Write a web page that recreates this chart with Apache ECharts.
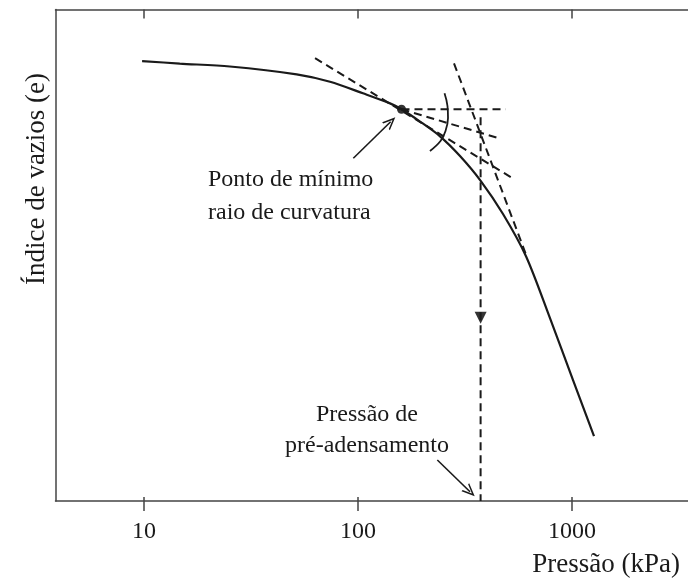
<!DOCTYPE html>
<html>
<head>
    <meta charset="utf-8">
    <title>Pressão de pré-adensamento</title>
    <script src="https://cdn.jsdelivr.net/npm/echarts@6.0.0/dist/echarts.min.js"></script>
    <style>
        html, body { margin: 0; padding: 0; background: #fff; }
        #main { width: 688px; height: 580px; }
    </style>
</head>
<body>
<div id="main"></div>
<script type="text/javascript">
// curva e x log(p)
var curveP = [9.8, 14.7, 25.2, 51.7, 74.0, 105.5, 141.1, 159.7, 194.9, 241.7, 299.7, 373.6, 476, 609.6, 789, 1011, 1267];
var curveE = [1.295, 1.290, 1.284, 1.268, 1.253, 1.2295, 1.209, 1.197, 1.172, 1.142, 1.102, 1.052, 0.984, 0.898, 0.772, 0.646, 0.532];

// ponto de minimo raio de curvatura
var minPoint = [159.7, 1.197];

// construcao de Casagrande
var tangentP = [63.0, 526.1];
var tangentE = [1.301, 1.057];
var horizP = [159.7, 489.8];
var horizE = [1.197, 1.197];
var bisectP = [159.7, 456];
var bisectE = [1.197, 1.138];
var virginP = [280.9, 616.2];
var virginE = [1.2905, 0.896];
var vertP = [374, 374];
var vertE = [1.181, 0.4];
var arrowMid = [374, 0.773];
var arcP = [253.7, 261.9, 263.4, 256.4, 243, 216.9];
var arcE = [1.2295, 1.2037, 1.1792, 1.1528, 1.1325, 1.1121];

// setas das legendas
var arrow1P = [95.1, 142.1];
var arrow1E = [1.0973, 1.1717];
var arrow2P = [234.8, 333.8];
var arrow2E = [0.4834, 0.4189];

var tickValues = [10, 100, 1000];

function pairs(xs, ys) {
    return xs.map(function (x, i) { return [x, ys[i]]; });
}

var serif = '"Liberation Serif", "Times New Roman", serif';
var ink = '#1a1a1a';
var chevron = 'path://M0,10 L5,0 L10,10 L8.6,10 L5,3 L1.4,10 Z';

function dashed(name, xs, ys) {
    return {
        name: name,
        type: 'line',
        data: pairs(xs, ys),
        showSymbol: false,
        symbol: 'none',
        silent: true,
        lineStyle: { color: ink, width: 2, type: [8, 5] }
    };
}

function pointer(name, xs, ys) {
    return {
        name: name,
        type: 'line',
        data: [],
        silent: true,
        markLine: {
            silent: true,
            animation: false,
            symbol: ['none', chevron],
            symbolSize: [11, 13],
            label: { show: false },
            lineStyle: { color: ink, width: 1.6, type: 'solid' },
            data: [[{ coord: [xs[0], ys[0]] }, { coord: [xs[1], ys[1]] }]]
        }
    };
}

var myChart = echarts.init(document.getElementById('main'));

var option = {
    animation: false,
    backgroundColor: '#fff',
    grid: { left: 55.5, right: 0, top: 9.5, bottom: 79, containLabel: false },
    xAxis: [
        {
            type: 'log', position: 'bottom', min: 3.86, max: 3483,
            axisLine: { show: true, lineStyle: { color: '#444', width: 1.5 } },
            axisTick: { show: true, inside: false, length: 10, customValues: tickValues, lineStyle: { color: '#444', width: 1.5 } },
            axisLabel: {
                show: true, customValues: tickValues, margin: 19, color: ink, fontFamily: serif, fontSize: 24,
                formatter: function (v) { return String(Math.round(v)); }
            },
            splitLine: { show: false }, minorTick: { show: false }
        },
        {
            type: 'log', position: 'top', min: 3.86, max: 3483,
            axisLine: { show: true, lineStyle: { color: '#444', width: 1.5 } },
            axisTick: { show: true, inside: true, length: 9, customValues: tickValues, lineStyle: { color: '#444', width: 1.5 } },
            axisLabel: { show: false },
            splitLine: { show: false }
        },
        {
            type: 'log', position: 'bottom', min: 3.86, max: 3483,
            axisLine: { show: false },
            axisTick: { show: true, inside: true, length: 4, customValues: tickValues, lineStyle: { color: '#444', width: 1.5 } },
            axisLabel: { show: false },
            splitLine: { show: false }
        }
    ],
    yAxis: {
        type: 'value', min: 0.4, max: 1.4,
        axisLine: { show: true, lineStyle: { color: '#444', width: 1.5 } },
        axisTick: { show: false },
        axisLabel: { show: false },
        splitLine: { show: false }
    },
    series: [
        {
            name: 'Curva',
            type: 'line',
            data: pairs(curveP, curveE),
            smooth: 0.3,
            showSymbol: false,
            symbol: 'none',
            lineStyle: { color: ink, width: 2.2 }
        },
        dashed('Tangente', tangentP, tangentE),
        dashed('Horizontal', horizP, horizE),
        dashed('Bissetriz', bisectP, bisectE),
        dashed('Reta virgem', virginP, virginE),
        dashed('Vertical', vertP, vertE),
        {
            name: 'Arco',
            type: 'line',
            data: pairs(arcP, arcE),
            smooth: 0.4,
            showSymbol: false,
            symbol: 'none',
            lineStyle: { color: ink, width: 1.8 }
        },
        {
            name: 'Ponto',
            type: 'scatter',
            data: [minPoint],
            symbol: 'circle',
            symbolSize: 9,
            itemStyle: { color: '#000' }
        },
        {
            name: 'Seta vertical',
            type: 'scatter',
            data: [arrowMid],
            symbol: 'triangle',
            symbolRotate: 180,
            symbolSize: [12, 12],
            itemStyle: { color: '#000' }
        },
        pointer('Seta 1', arrow1P, arrow1E),
        pointer('Seta 2', arrow2P, arrow2E)
    ],
    graphic: [
        {
            type: 'text', x: 37, y: 179, rotation: Math.PI / 2,
            style: { text: 'Índice de vazios (e)', font: '27px ' + serif, fill: ink, align: 'center', verticalAlign: 'middle' }
        },
        {
            type: 'text', x: 680, y: 565,
            style: { text: 'Pressão (kPa)', font: '27px ' + serif, fill: ink, align: 'right', verticalAlign: 'middle' }
        },
        {
            type: 'text', x: 208, y: 180,
            style: { text: 'Ponto de mínimo', font: '24px ' + serif, fill: ink, align: 'left', verticalAlign: 'middle' }
        },
        {
            type: 'text', x: 208, y: 213,
            style: { text: 'raio de curvatura', font: '24px ' + serif, fill: ink, align: 'left', verticalAlign: 'middle' }
        },
        {
            type: 'text', x: 367, y: 415,
            style: { text: 'Pressão de', font: '24px ' + serif, fill: ink, align: 'center', verticalAlign: 'middle' }
        },
        {
            type: 'text', x: 367, y: 446,
            style: { text: 'pré-adensamento', font: '24px ' + serif, fill: ink, align: 'center', verticalAlign: 'middle' }
        }
    ]
};

myChart.setOption(option);
</script>
</body>
</html>
